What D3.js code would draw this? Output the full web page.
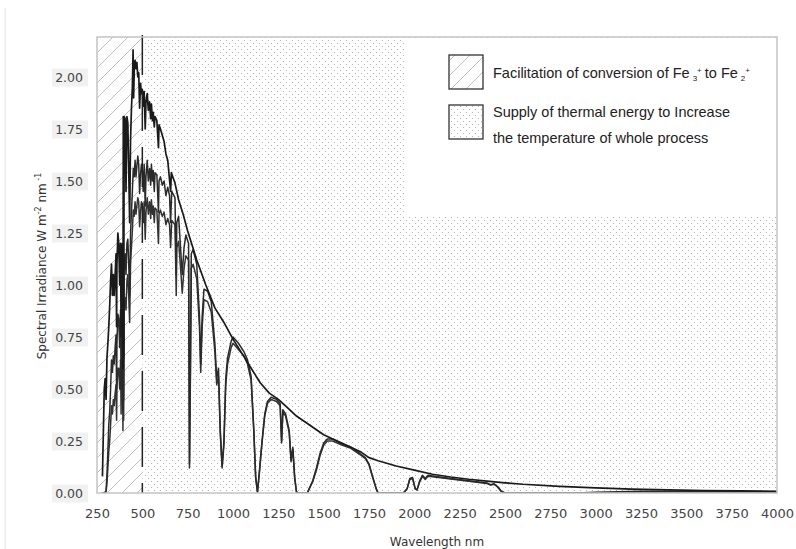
<!DOCTYPE html>
<html>
<head>
<meta charset="utf-8">
<script src="https://cdn.jsdelivr.net/npm/d3@7"></script>
<style>
  body { margin: 0; background: #fff; }
  svg { display: block; }
</style>
</head>
<body>
<div id="chart"></div>
<script>
//////////////////////////////////////////////////////////////////////////////
// Data (W m-2 nm-1 against wavelength in nm)

var xTicks = [250, 500, 750, 1000, 1250, 1500, 1750, 2000, 2250, 2500, 2750, 3000, 3250, 3500, 3750, 4000];
var yTicks = [0, 0.25, 0.5, 0.75, 1.0, 1.25, 1.5, 1.75, 2.0];

// extraterrestrial (top envelope)
var etrWl = [280, 290, 295, 300, 305, 310, 315, 320, 325, 330, 335, 340, 345, 350, 355, 358, 360, 365, 370, 375,
  380, 383, 385, 390, 393, 395, 397, 400, 405, 410, 415, 420, 425, 430, 435, 440, 445, 449, 452, 456,
  460, 465, 470, 475, 480, 485, 490, 495, 500, 505, 510, 516, 520, 527, 533, 540, 546, 550, 556, 560,
  566, 570, 580, 589, 592, 600, 610, 620, 630, 640, 656, 660, 680, 700, 725, 750, 775, 800, 850, 900,
  950, 1000, 1050, 1100, 1150, 1200, 1250, 1300, 1350, 1400, 1450, 1500, 1550, 1600, 1650, 1700, 1750, 1800, 1900, 2000,
  2100, 2200, 2300, 2400, 2500, 2600, 2800, 3000, 3200, 3400, 3600, 3800, 4000];
var etr = [0.08, 0.5, 0.55, 0.45, 0.65, 0.72, 0.8, 0.9, 1.02, 1.1, 0.95, 1.05, 0.95, 1.05, 1.15, 0.8, 1.1, 1.25, 1.2, 1.0,
  1.2, 0.75, 1.1, 1.2, 0.6, 1.81, 0.65, 1.81, 1.8, 1.45, 1.81, 1.78, 1.55, 1.3, 1.7, 1.85, 1.95, 2.13, 1.9, 2.05,
  2.08, 2.04, 2.07, 2.0, 2.02, 1.85, 1.97, 1.92, 1.94, 1.86, 1.93, 1.75, 1.88, 1.92, 1.84, 1.88, 1.8, 1.87, 1.79, 1.83,
  1.76, 1.81, 1.79, 1.66, 1.77, 1.75, 1.72, 1.69, 1.63, 1.6, 1.45, 1.54, 1.49, 1.41, 1.34, 1.26, 1.19, 1.12, 1.0, 0.89,
  0.82, 0.74, 0.67, 0.6, 0.53, 0.48, 0.45, 0.41, 0.37, 0.34, 0.31, 0.28, 0.26, 0.24, 0.22, 0.2, 0.17, 0.155, 0.13, 0.11,
  0.09, 0.077, 0.066, 0.057, 0.049, 0.042, 0.032, 0.025, 0.019, 0.015, 0.012, 0.010, 0.008];

// global tilt (middle curve)
var globalWl = [280, 295, 300, 305, 310, 315, 320, 325, 330, 335, 340, 345, 350, 355, 358, 360, 365, 370, 375, 380,
  383, 385, 390, 393, 395, 397, 400, 405, 410, 415, 420, 425, 430, 435, 440, 445, 450, 455, 460, 465,
  470, 475, 480, 485, 490, 495, 500, 505, 510, 516, 520, 527, 533, 540, 546, 550, 556, 560, 566, 570,
  580, 589, 592, 600, 610, 620, 630, 640, 650, 656, 662, 680, 687, 690, 700, 715, 720, 730, 740, 755,
  760, 765, 770, 780, 800, 815, 822, 830, 840, 860, 880, 900, 910, 920, 930, 940, 950, 960, 970, 990,
  1000, 1030, 1060, 1080, 1100, 1115, 1125, 1135, 1145, 1160, 1175, 1190, 1210, 1240, 1260, 1268, 1275, 1290, 1310, 1320,
  1330, 1340, 1350, 1360, 1410, 1420, 1440, 1460, 1480, 1500, 1520, 1550, 1600, 1650, 1700, 1730, 1750, 1770, 1790, 1800,
  1940, 1960, 1975, 1990, 2005, 2015, 2030, 2045, 2060, 2075, 2100, 2200, 2300, 2400, 2420, 2440, 2460, 2480, 2500, 2900,
  3000, 3250, 3500, 3750, 4000];
var globalTilt = [0, 0, 0.01, 0.09, 0.2, 0.33, 0.39, 0.5, 0.64, 0.58, 0.66, 0.62, 0.7, 0.76, 0.5, 0.72, 0.86, 0.84, 0.7, 0.88,
  0.5, 0.8, 0.92, 0.4, 0.98, 0.45, 1.1, 1.15, 1.05, 1.2, 1.22, 1.1, 0.95, 1.25, 1.35, 1.45, 1.56, 1.52, 1.6, 1.52,
  1.57, 1.62, 1.58, 1.44, 1.53, 1.58, 1.55, 1.45, 1.58, 1.38, 1.52, 1.6, 1.5, 1.56, 1.48, 1.58, 1.5, 1.55, 1.45, 1.54,
  1.53, 1.35, 1.5, 1.52, 1.48, 1.5, 1.43, 1.47, 1.43, 1.3, 1.45, 1.42, 1.05, 1.3, 1.33, 1.12, 1.05, 1.18, 1.24, 1.2,
  0.14, 0.6, 1.15, 1.17, 1.1, 0.85, 0.62, 0.85, 0.98, 0.97, 0.92, 0.72, 0.55, 0.6, 0.3, 0.13, 0.25, 0.55, 0.65, 0.73,
  0.75, 0.72, 0.68, 0.64, 0.56, 0.3, 0.08, 0.005, 0.1, 0.25, 0.38, 0.44, 0.46, 0.45, 0.43, 0.25, 0.4, 0.38, 0.3, 0.16,
  0.22, 0.08, 0.005, 0, 0, 0.02, 0.06, 0.12, 0.19, 0.24, 0.26, 0.26, 0.235, 0.22, 0.19, 0.17, 0.14, 0.08, 0.02, 0,
  0, 0.02, 0.07, 0.075, 0.02, 0.015, 0.06, 0.085, 0.07, 0.085, 0.082, 0.07, 0.059, 0.048, 0.04, 0.044, 0.03, 0.008, 0, 0,
  0.004, 0.008, 0.008, 0.007, 0.006];

// direct (lowest curve)
var directWl = [280, 300, 305, 310, 315, 320, 325, 330, 335, 340, 345, 350, 355, 358, 360, 365, 370, 375, 380, 383,
  385, 390, 393, 395, 397, 400, 405, 410, 415, 420, 425, 430, 435, 440, 445, 450, 455, 460, 465, 470,
  475, 480, 485, 490, 495, 500, 505, 510, 516, 520, 527, 533, 540, 546, 550, 556, 560, 566, 570, 580,
  589, 592, 600, 610, 620, 630, 640, 650, 656, 662, 680, 687, 690, 700, 715, 720, 730, 740, 755, 760,
  765, 770, 780, 800, 815, 822, 830, 840, 860, 880, 900, 910, 920, 930, 940, 950, 960, 970, 990, 1000,
  1030, 1060, 1080, 1100, 1115, 1125, 1135, 1145, 1160, 1175, 1190, 1210, 1240, 1260, 1268, 1275, 1290, 1310, 1320, 1330,
  1340, 1350, 1360, 1410, 1420, 1440, 1460, 1480, 1500, 1520, 1550, 1600, 1650, 1700, 1730, 1750, 1770, 1790, 1800, 1940,
  1960, 1975, 1990, 2005, 2015, 2030, 2045, 2060, 2075, 2100, 2200, 2300, 2400, 2420, 2440, 2460, 2480, 2500, 4000];
var direct = [0, 0.005, 0.05, 0.12, 0.2, 0.25, 0.33, 0.42, 0.38, 0.45, 0.42, 0.48, 0.52, 0.35, 0.5, 0.6, 0.6, 0.5, 0.64, 0.38,
  0.6, 0.7, 0.3, 0.75, 0.35, 0.88, 0.94, 0.88, 1.02, 1.05, 0.95, 0.82, 1.1, 1.18, 1.26, 1.36, 1.33, 1.4, 1.34, 1.38,
  1.42, 1.4, 1.28, 1.35, 1.4, 1.38, 1.3, 1.4, 1.22, 1.35, 1.42, 1.34, 1.4, 1.32, 1.41, 1.34, 1.38, 1.3, 1.37, 1.36,
  1.2, 1.34, 1.36, 1.33, 1.35, 1.29, 1.32, 1.29, 1.18, 1.31, 1.29, 0.95, 1.18, 1.21, 1.03, 0.96, 1.08, 1.14, 1.12, 0.12,
  0.55, 1.08, 1.1, 1.03, 0.8, 0.58, 0.8, 0.93, 0.92, 0.87, 0.68, 0.52, 0.56, 0.28, 0.12, 0.23, 0.52, 0.62, 0.7, 0.72,
  0.69, 0.66, 0.62, 0.54, 0.29, 0.07, 0.004, 0.09, 0.24, 0.37, 0.43, 0.45, 0.44, 0.42, 0.24, 0.39, 0.37, 0.29, 0.15, 0.21,
  0.07, 0.004, 0, 0, 0.02, 0.055, 0.11, 0.18, 0.23, 0.25, 0.25, 0.23, 0.215, 0.185, 0.165, 0.135, 0.075, 0.02, 0, 0,
  0.02, 0.065, 0.07, 0.02, 0.015, 0.055, 0.08, 0.065, 0.08, 0.078, 0.067, 0.057, 0.046, 0.038, 0.042, 0.028, 0.007, 0, 0];

var legendLabels = ["Facilitation of conversion of Fe", "Supply of thermal energy to Increase", "the temperature of whole process"];

//////////////////////////////////////////////////////////////////////////////
// Layout

var width = 796, height = 549;
var plotL = 97, plotR = 777, plotT = 37, plotB = 493;

var xScale = d3.scaleLinear().domain([250, 4000]).range([plotL, plotR]);
var yScale = d3.scaleLinear().domain([0, 2]).range([plotB, 77]);

var svg = d3.select("#chart").append("svg")
    .attr("width", width)
    .attr("height", height);

var defs = svg.append("defs");

// hatch: thin grey "/" lines
var hatch = defs.append("pattern")
    .attr("id", "hatch")
    .attr("patternUnits", "userSpaceOnUse")
    .attr("width", 15).attr("height", 15);
hatch.append("path")
    .attr("d", "M0,15 L15,0 M-4,4 L4,-4 M11,19 L19,11")
    .attr("stroke", "#b8b8b8")
    .attr("stroke-width", 0.9);

// fine dots
var dots = defs.append("pattern")
    .attr("id", "dots")
    .attr("patternUnits", "userSpaceOnUse")
    .attr("width", 6).attr("height", 6);
dots.append("circle").attr("cx", 1.5).attr("cy", 1.5).attr("r", 0.6).attr("fill", "#aaa");
dots.append("circle").attr("cx", 4.5).attr("cy", 4.5).attr("r", 0.6).attr("fill", "#aaa");

defs.append("clipPath").attr("id", "plotClip")
    .append("rect")
    .attr("x", plotL).attr("y", plotT)
    .attr("width", plotR - plotL).attr("height", plotB - plotT);

// faint page edge on the left
svg.append("line")
    .attr("x1", 5).attr("x2", 5)
    .attr("y1", 8).attr("y2", height)
    .attr("stroke", "#e2e2e2")
    .attr("stroke-width", 1);

//////////////////////////////////////////////////////////////////////////////
// Shaded regions

svg.append("rect")
    .attr("x", xScale(250)).attr("y", plotT)
    .attr("width", xScale(500) - xScale(250)).attr("height", plotB - plotT)
    .attr("fill", "url(#hatch)");

svg.append("rect")
    .attr("x", xScale(500)).attr("y", plotT)
    .attr("width", xScale(4000) - xScale(500)).attr("height", plotB - plotT)
    .attr("fill", "url(#dots)");

// legend panel covers the dots
svg.append("rect")
    .attr("x", 405).attr("y", plotT + 1)
    .attr("width", plotR - 405).attr("height", 215 - plotT)
    .attr("fill", "#fff");

//////////////////////////////////////////////////////////////////////////////
// Spectra

function toPoints(wl, vals) {
    return wl.map(function(w, i) { return [w, vals[i]]; });
}

var line = d3.line()
    .x(function(d) { return xScale(d[0]); })
    .y(function(d) { return yScale(d[1]); });

var curves = svg.append("g").attr("clip-path", "url(#plotClip)");

[
    { pts: toPoints(directWl, direct), w: 1.5, c: "#333" },
    { pts: toPoints(globalWl, globalTilt), w: 1.5, c: "#2a2a2a" },
    { pts: toPoints(etrWl, etr), w: 1.7, c: "#1a1a1a" }
].forEach(function(s) {
    curves.append("path")
        .datum(s.pts)
        .attr("d", line)
        .attr("fill", "none")
        .attr("stroke", s.c)
        .attr("stroke-width", s.w)
        .attr("stroke-linejoin", "round");
});

// dashed divider at 500 nm
svg.append("line")
    .attr("x1", xScale(500)).attr("x2", xScale(500))
    .attr("y1", 35).attr("y2", plotB)
    .attr("stroke", "#222")
    .attr("stroke-width", 1.5)
    .attr("stroke-dasharray", "24,0,16,16");

// frame
svg.append("rect")
    .attr("x", plotL).attr("y", plotT)
    .attr("width", plotR - plotL).attr("height", plotB - plotT)
    .attr("fill", "none")
    .attr("stroke", "#c4c4c4")
    .attr("stroke-width", 1.5);

//////////////////////////////////////////////////////////////////////////////
// Axes (labels only, no tick marks)

var yAxis = svg.append("g").attr("transform", "translate(" + (plotL - 14) + ",0)")
    .call(d3.axisLeft(yScale).tickValues(yTicks).tickFormat(d3.format(".2f")).tickSize(0).tickPadding(0));
yAxis.select(".domain").remove();
yAxis.selectAll("text")
    .attr("font-family", "DejaVu Sans")
    .attr("font-size", 12.5)
    .attr("fill", "#444");
yAxis.selectAll(".tick").insert("rect", "text")
    .attr("x", -31).attr("y", -9)
    .attr("width", 36).attr("height", 18)
    .attr("fill", "#f1f1f1");

var xAxis = svg.append("g").attr("transform", "translate(0," + (plotB + 16) + ")")
    .call(d3.axisBottom(xScale).tickValues(xTicks).tickFormat(d3.format("d")).tickSize(0).tickPadding(0));
xAxis.select(".domain").remove();
xAxis.selectAll("text")
    .attr("font-family", "DejaVu Sans")
    .attr("font-size", 13)
    .attr("fill", "#444");

svg.append("text")
    .attr("x", 437).attr("y", 546)
    .attr("text-anchor", "middle")
    .attr("font-family", "DejaVu Sans")
    .attr("font-size", 12)
    .attr("fill", "#333")
    .text("Wavelength nm");

var yLab = svg.append("text")
    .attr("transform", "translate(46,266) rotate(-90)")
    .attr("text-anchor", "middle")
    .attr("font-family", "DejaVu Sans")
    .attr("font-size", 12)
    .attr("fill", "#333");
yLab.append("tspan").text("Spectral Irradiance W m");
yLab.append("tspan").attr("dy", -5).attr("font-size", 8).text("-2");
yLab.append("tspan").attr("dy", 5).text(" nm");
yLab.append("tspan").attr("dy", -5).attr("font-size", 8).text(" -1");

//////////////////////////////////////////////////////////////////////////////
// Legend

var legend = svg.append("g").attr("font-family", "Liberation Sans, Arial, sans-serif").attr("fill", "#222");

legend.append("rect")
    .attr("x", 449).attr("y", 55).attr("width", 34).attr("height", 34)
    .attr("fill", "url(#hatch)")
    .attr("stroke", "#333").attr("stroke-width", 1.3);
legend.append("rect")
    .attr("x", 449).attr("y", 105).attr("width", 34).attr("height", 34)
    .attr("fill", "url(#dots)")
    .attr("stroke", "#333").attr("stroke-width", 1.3);

var t1 = legend.append("text").attr("x", 493).attr("y", 78).attr("font-size", 14.5);
t1.append("tspan").text(legendLabels[0]);
t1.append("tspan").attr("font-size", 8).attr("dx", 3).attr("dy", 3).text("3");
t1.append("tspan").attr("font-size", 8).attr("dy", -8).text("+");
t1.append("tspan").attr("dy", 5).attr("dx", 3).text("to Fe");
t1.append("tspan").attr("font-size", 8).attr("dx", 3).attr("dy", 3).text("2");
t1.append("tspan").attr("font-size", 8).attr("dy", -8).text("+");

legend.append("text").attr("x", 493).attr("y", 117).attr("font-size", 14.5).text(legendLabels[1]);
legend.append("text").attr("x", 493).attr("y", 143).attr("font-size", 14.5).text(legendLabels[2]);
</script>
</body>
</html>
